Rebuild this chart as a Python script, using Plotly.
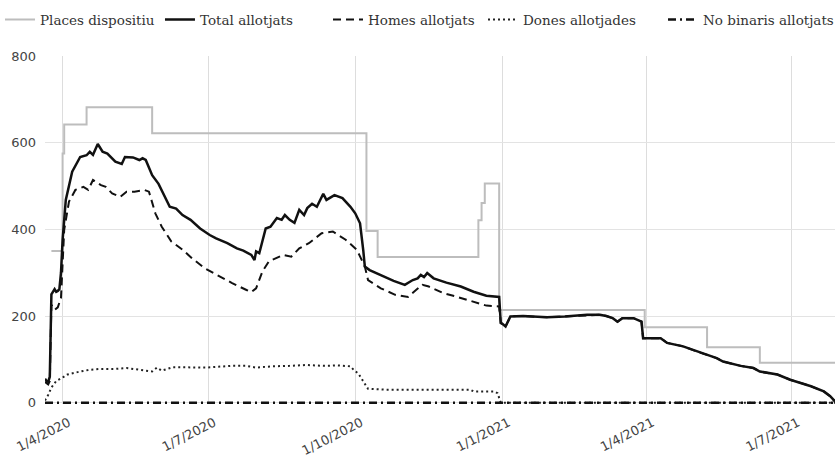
import plotly.graph_objects as go

# ---- data ----
places_dates = ["2020-03-25", "2020-04-01", "2020-04-02", "2020-04-16", "2020-05-27",
                "2020-10-08", "2020-10-15", "2020-12-17", "2020-12-19", "2020-12-21",
                "2020-12-30", "2021-03-31", "2021-05-09", "2021-06-11", "2021-07-28"]
places_vals = [350, 575, 642, 682, 622, 396, 336, 421, 461, 506, 214, 174, 128, 92, 92]

total_dates = ["2020-03-21", "2020-03-22", "2020-03-23", "2020-03-24", "2020-03-25", "2020-03-26",
               "2020-03-27", "2020-03-28", "2020-03-29", "2020-03-30", "2020-03-31", "2020-04-01",
               "2020-04-03", "2020-04-07", "2020-04-12", "2020-04-16", "2020-04-18", "2020-04-20",
               "2020-04-23", "2020-04-26", "2020-04-29", "2020-05-04", "2020-05-08", "2020-05-10",
               "2020-05-15", "2020-05-19", "2020-05-21", "2020-05-23", "2020-05-27", "2020-05-31",
               "2020-06-03", "2020-06-07", "2020-06-11", "2020-06-15", "2020-06-20", "2020-06-26",
               "2020-07-02", "2020-07-06", "2020-07-13", "2020-07-19", "2020-07-23", "2020-07-28",
               "2020-07-30", "2020-07-31", "2020-08-02", "2020-08-06", "2020-08-09", "2020-08-13",
               "2020-08-16", "2020-08-18", "2020-08-21", "2020-08-24", "2020-08-27", "2020-08-30",
               "2020-09-01", "2020-09-04", "2020-09-07", "2020-09-11", "2020-09-13", "2020-09-18",
               "2020-09-23", "2020-09-28", "2020-10-01", "2020-10-04", "2020-10-06", "2020-10-07",
               "2020-10-10", "2020-10-17", "2020-10-25", "2020-11-01", "2020-11-03", "2020-11-06",
               "2020-11-09", "2020-11-11", "2020-11-13", "2020-11-15", "2020-11-19", "2020-11-27",
               "2020-12-06", "2020-12-14", "2020-12-22", "2020-12-30", "2020-12-31", "2021-01-01",
               "2021-01-03", "2021-01-06", "2021-01-14", "2021-01-29", "2021-02-09", "2021-02-23",
               "2021-03-03", "2021-03-07", "2021-03-11", "2021-03-14", "2021-03-17", "2021-03-24",
               "2021-03-29", "2021-03-30", "2021-04-10", "2021-04-14", "2021-04-24", "2021-05-05",
               "2021-05-15", "2021-05-19", "2021-05-30", "2021-06-07", "2021-06-11", "2021-06-22",
               "2021-06-30", "2021-07-13", "2021-07-21", "2021-07-25", "2021-07-28"]
total_vals = [55, 50, 48, 60, 250, 258, 262, 256, 258, 262,
              300, 375, 468, 533, 567, 571, 579, 572, 597, 579,
              575, 556, 551, 567, 566, 560, 564, 560, 525, 505,
              483, 452, 448, 433, 422, 402, 387, 379, 368, 356,
              351, 341, 329, 349, 345, 402, 406, 426, 422, 433,
              422, 415, 445, 433, 449, 459, 452, 482, 468, 479,
              472, 452, 437, 414, 352, 314, 306, 295, 281, 272,
              276, 283, 287, 295, 290, 299, 287, 277, 268, 256,
              247, 244, 184, 182, 176, 199, 200, 197, 199, 203,
              203, 200, 195, 187, 195, 195, 187, 149, 149, 138,
              130, 115, 103, 95, 85, 80, 72, 65, 53, 38,
              26, 15, 3]

homes_dates = ["2020-03-21", "2020-03-22", "2020-03-23", "2020-03-24", "2020-03-25", "2020-03-27",
               "2020-03-29", "2020-03-31", "2020-04-01", "2020-04-02", "2020-04-05", "2020-04-09",
               "2020-04-14", "2020-04-17", "2020-04-20", "2020-04-25", "2020-04-28", "2020-05-02",
               "2020-05-07", "2020-05-11", "2020-05-16", "2020-05-22", "2020-05-25", "2020-05-29",
               "2020-06-02", "2020-06-08", "2020-06-15", "2020-06-21", "2020-06-29", "2020-07-08",
               "2020-07-16", "2020-07-25", "2020-07-28", "2020-07-31", "2020-08-04", "2020-08-08",
               "2020-08-17", "2020-08-22", "2020-08-27", "2020-09-02", "2020-09-10", "2020-09-17",
               "2020-09-25", "2020-10-02", "2020-10-07", "2020-10-09", "2020-10-17", "2020-10-26",
               "2020-11-03", "2020-11-08", "2020-11-12", "2020-11-16", "2020-11-25", "2020-12-03",
               "2020-12-14", "2020-12-22", "2020-12-30", "2020-12-31", "2021-01-01", "2021-01-03",
               "2021-01-06", "2021-01-14", "2021-01-29", "2021-02-09", "2021-02-23", "2021-03-03",
               "2021-03-07", "2021-03-11", "2021-03-14", "2021-03-17", "2021-03-24", "2021-03-29",
               "2021-03-30", "2021-04-10", "2021-04-14", "2021-04-24", "2021-05-05", "2021-05-15",
               "2021-05-19", "2021-05-30", "2021-06-07", "2021-06-11", "2021-06-22", "2021-06-30",
               "2021-07-13", "2021-07-21", "2021-07-25", "2021-07-28"]
homes_vals = [48, 45, 42, 50, 226, 214, 220, 242, 322, 399, 464, 491,
              498, 491, 514, 502, 498, 483, 475, 487, 487, 491, 487, 437,
              406, 372, 353, 333, 310, 291, 276, 260, 255, 264, 303, 326,
              341, 337, 356, 368, 391, 395, 376, 353, 314, 283, 264, 249,
              244, 260, 272, 268, 253, 245, 233, 224, 222, 184, 182, 176,
              199, 200, 197, 199, 203, 203, 200, 195, 187, 195, 195, 187,
              149, 149, 138, 130, 115, 103, 95, 85, 80, 72, 65, 53,
              38, 26, 15, 3]

dones_dates = ["2020-03-21", "2020-03-23", "2020-03-25", "2020-03-28", "2020-04-01", "2020-04-04",
               "2020-04-12", "2020-04-18", "2020-04-25", "2020-05-04", "2020-05-11", "2020-05-21",
               "2020-05-27", "2020-05-30", "2020-06-02", "2020-06-09", "2020-06-20", "2020-06-30",
               "2020-07-15", "2020-07-25", "2020-07-31", "2020-08-10", "2020-08-21", "2020-09-01",
               "2020-09-11", "2020-09-20", "2020-09-28", "2020-09-30", "2020-10-03", "2020-10-05",
               "2020-10-07", "2020-10-09", "2020-10-20", "2020-11-12", "2020-12-12", "2020-12-14",
               "2020-12-27", "2020-12-29", "2020-12-31", "2021-03-01", "2021-07-28"]
dones_vals = [5, 18, 35, 50, 58, 65, 72, 76, 78, 78, 80, 74,
              72, 81, 74, 82, 81, 81, 85, 85, 81, 84, 85, 87,
              85, 86, 84, 76, 67, 55, 41, 32, 30, 30, 30, 26,
              26, 22, 0, 0, 0]

nb_dates = ["2020-03-21", "2020-06-01", "2020-09-01", "2020-12-01", "2021-03-01", "2021-07-28"]
nb_vals = [0, 0, 0, 0, 0, 0]

x_range = ["2020-03-21", "2021-07-28"]
y_range = [-3, 800]

# ---- figure ----
legend_names = ["legend", "legend2", "legend3", "legend4", "legend5"]
legend_x = [0.0, 0.1909, 0.3914, 0.5764, 0.7912]

fig = go.Figure()
fig.add_trace(go.Scatter(x=places_dates, y=places_vals, name="Places dispositiu", legend="legend",
                         mode="lines", line=dict(color="#bdbdbd", width=2, shape="hv")))
fig.add_trace(go.Scatter(x=total_dates, y=total_vals, name="Total allotjats", legend="legend2",
                         mode="lines", line=dict(color="#111111", width=2.5)))
fig.add_trace(go.Scatter(x=homes_dates, y=homes_vals, name="Homes allotjats", legend="legend3",
                         mode="lines", line=dict(color="#111111", width=2, dash="8px,5px")))
fig.add_trace(go.Scatter(x=dones_dates, y=dones_vals, name="Dones allotjades", legend="legend4",
                         mode="lines", line=dict(color="#222222", width=2, dash="2px,3px")))
fig.add_trace(go.Scatter(x=nb_dates, y=nb_vals, name="No binaris allotjats", legend="legend5",
                         mode="lines", line=dict(color="#111111", width=2.5, dash="8px,4px,2px,4px")))

legend_common = dict(orientation="h", xref="container", yref="container",
                     y=0.957, xanchor="left", yanchor="middle",
                     font=dict(family="DejaVu Serif", size=13.5, color="#333333"),
                     itemwidth=30, bgcolor="rgba(0,0,0,0)")
legends = {name: dict(legend_common, x=lx) for name, lx in zip(legend_names, legend_x)}

fig.update_layout(
    width=838, height=459,
    margin=dict(l=45, r=3, t=56, b=55, autoexpand=False),
    paper_bgcolor="white", plot_bgcolor="white",
    showlegend=True,
    font=dict(family="DejaVu Sans", size=13, color="#444444"),
    **legends,
)
fig.update_xaxes(type="date", range=x_range, tick0="2020-04-01", dtick="M3",
                 tickformat="%-d/%-m/%Y", tickangle=-27, automargin=False,
                 showgrid=True, gridcolor="#dddddd", gridwidth=1,
                 showline=False, zeroline=False, ticks="",
                 ticklabelstandoff=8, ticklabelshift=6,
                 tickfont=dict(family="DejaVu Sans", size=13, color="#444444"))
fig.update_yaxes(range=y_range, tickvals=[0, 200, 400, 600, 800], automargin=False,
                 showgrid=True, gridcolor="#e3e3e3", gridwidth=1,
                 zeroline=False, showline=False, ticks="", ticklabelstandoff=8,
                 tickfont=dict(family="DejaVu Sans", size=13, color="#444444"))

fig.write_html("out.html", config={"displayModeBar": False},
               post_script="document.body.style.margin='0';")
